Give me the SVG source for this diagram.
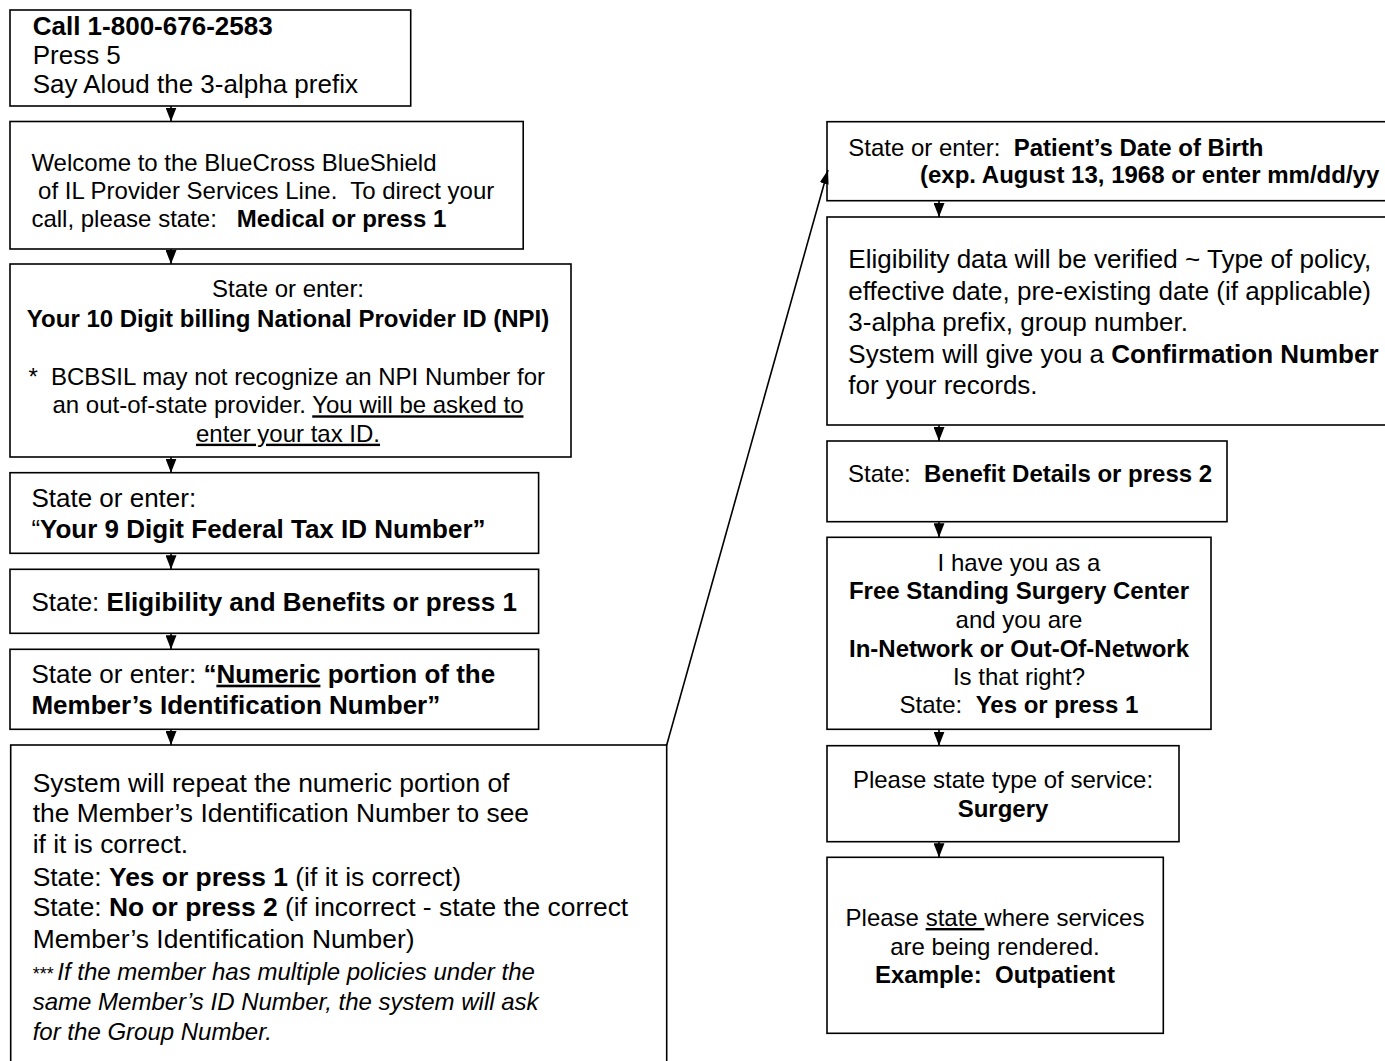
<svg xmlns="http://www.w3.org/2000/svg" width="1385" height="1061" viewBox="0 0 1385 1061">
<style>
rect.box { fill: #fff; stroke: #000; stroke-width: 1.6; }
text { font-family: "Liberation Sans", Arial, sans-serif; fill: #000; white-space: pre; }
.s24 { font-size: 24px; }
.s26 { font-size: 26px; }
.s26b { font-size: 26.4px; }
.b { font-weight: bold; }
.i { font-style: italic; }
.u { text-decoration: underline; }
.mid { text-anchor: middle; }
.conn { fill: none; stroke: #000; stroke-width: 1.6; }
</style>
<defs>
<marker id="tri" viewBox="0 0 14 11" refX="14" refY="5.5" markerWidth="14" markerHeight="11" markerUnits="userSpaceOnUse" orient="auto">
<path d="M0,0 L14,5.5 L0,11 z" fill="#000"/>
</marker>
<marker id="arr" viewBox="0 0 14 9" refX="14" refY="4.5" markerWidth="14" markerHeight="9" markerUnits="userSpaceOnUse" orient="auto">
<path d="M0,0 L14,4.5 L0,9 z" fill="#000"/>
</marker>
</defs>
<rect width="1385" height="1061" fill="#fff"/>

<g id="n1">
<rect class="box" x="10" y="10" width="400.7" height="96"/>
<text class="s26" x="32.7" y="35"><tspan class="b">Call 1-800-676-2583</tspan></text>
<text class="s26" x="32.7" y="64">Press 5</text>
<text class="s26" x="32.7" y="93">Say Aloud the 3-alpha prefix</text>
</g>

<g id="n2">
<rect class="box" x="10" y="121.5" width="513.2" height="127.5"/>
<text class="s24" x="31.4" y="170.7">Welcome to the BlueCross BlueShield</text>
<text class="s24" x="31.4" y="199"> of IL Provider Services Line.  To direct your</text>
<text class="s24" x="31.4" y="227">call, please state:   <tspan class="b">Medical or press 1</tspan></text>
</g>

<g id="n3">
<rect class="box" x="10" y="264" width="561" height="193"/>
<text class="s24 mid" x="288" y="297">State or enter:</text>
<text class="s24 mid b" x="288" y="327">Your 10 Digit billing National Provider ID (NPI)</text>
<text class="s24" x="28.6" y="385">*<tspan x="51">BCBSIL may not recognize an NPI Number for</tspan></text>
<text class="s24 mid" x="288" y="413.3">an out-of-state provider. <tspan class="u">You will be asked to</tspan></text>
<text class="s24 mid" x="288" y="441.7"><tspan class="u">enter your tax ID.</tspan></text>
</g>

<g id="n4">
<rect class="box" x="10" y="472.7" width="528.6" height="80.6"/>
<text class="s26" x="31.4" y="506.7">State or enter:</text>
<text class="s26" x="31.4" y="538.3">“<tspan class="b">Your 9 Digit Federal Tax ID Number”</tspan></text>
</g>

<g id="n5">
<rect class="box" x="10" y="569.3" width="528.6" height="64"/>
<text class="s26" x="31.4" y="610.7">State: <tspan class="b">Eligibility and Benefits or press 1</tspan></text>
</g>

<g id="n6">
<rect class="box" x="10" y="649.3" width="528.6" height="80"/>
<text class="s26" x="31.4" y="682.7">State or enter: <tspan class="b">“<tspan class="u">Numeric</tspan> portion of the</tspan></text>
<text class="s26 b" x="31.4" y="714">Member’s Identification Number”</text>
</g>

<g id="n7">
<rect class="box" x="10.7" y="745" width="656" height="330"/>
<text class="s26b" x="32.7" y="792">System will repeat the numeric portion of</text>
<text class="s26b" x="32.7" y="822">the Member’s Identification Number to see</text>
<text class="s26b" x="32.7" y="853">if it is correct.</text>
<text class="s26b" x="32.7" y="886">State: <tspan class="b">Yes or press 1</tspan> (if it is correct)</text>
<text class="s26b" x="32.7" y="916">State: <tspan class="b">No or press 2</tspan> (if incorrect - state the correct</text>
<text class="s26b" x="32.7" y="948">Member’s Identification Number)</text>
<text x="32.7" y="980"><tspan style="font-size:18px">***</tspan><tspan class="s24 i" x="57.3">If the member has multiple policies under the</tspan></text>
<text class="s24 i" x="32.7" y="1010">same Member’s ID Number, the system will ask</text>
<text class="s24 i" x="32.7" y="1040">for the Group Number.</text>
</g>

<g id="r1">
<rect class="box" x="827" y="121.7" width="600" height="79"/>
<text class="s24" x="848.3" y="156">State or enter:  <tspan class="b">Patient’s Date of Birth</tspan></text>
<text class="s24 b" x="920" y="183.3">(exp. August 13, 1968 or enter mm/dd/yy</text>
</g>

<g id="r2">
<rect class="box" x="827" y="217" width="600" height="208"/>
<text class="s26" x="848.3" y="268">Eligibility data will be verified ~ Type of policy,</text>
<text class="s26" x="848.3" y="299.5">effective date, pre-existing date (if applicable)</text>
<text class="s26" x="848.3" y="331">3-alpha prefix, group number.</text>
<text class="s26" x="848.3" y="362.5">System will give you a <tspan class="b">Confirmation Number</tspan></text>
<text class="s26" x="848.3" y="393.5">for your records.</text>
</g>

<g id="r3">
<rect class="box" x="827" y="441" width="400" height="80.7"/>
<text class="s24" x="848" y="481.7">State:  <tspan class="b">Benefit Details or press 2</tspan></text>
</g>

<g id="r4">
<rect class="box" x="827" y="537.3" width="384" height="192"/>
<text class="s24 mid" x="1019" y="570.7">I have you as a</text>
<text class="s24 mid b" x="1019" y="599">Free Standing Surgery Center</text>
<text class="s24 mid" x="1019" y="628.3">and you are</text>
<text class="s24 mid b" x="1019" y="656.7">In-Network or Out-Of-Network</text>
<text class="s24 mid" x="1019" y="685">Is that right?</text>
<text class="s24 mid" x="1019" y="713.3">State:  <tspan class="b">Yes or press 1</tspan></text>
</g>

<g id="r5">
<rect class="box" x="827" y="745.7" width="352" height="96"/>
<text class="s24 mid" x="1003" y="788.3">Please state type of service:</text>
<text class="s24 mid b" x="1003" y="816.7">Surgery</text>
</g>

<g id="r6">
<rect class="box" x="827" y="857.3" width="336.3" height="176"/>
<text class="s24 mid" x="995" y="926">Please <tspan class="u">state </tspan>where services</text>
<text class="s24 mid" x="995" y="955">are being rendered.</text>
<text class="s24 mid b" x="995" y="983.3">Example:  Outpatient</text>
</g>

<g id="connectors">
<path class="conn" d="M171,106 V121.5" marker-end="url(#tri)"/>
<path class="conn" d="M171,249 V264" marker-end="url(#tri)"/>
<path class="conn" d="M171,457 V472.7" marker-end="url(#tri)"/>
<path class="conn" d="M171,553.3 V569.3" marker-end="url(#tri)"/>
<path class="conn" d="M171,633.3 V649.3" marker-end="url(#tri)"/>
<path class="conn" d="M171,729.3 V745" marker-end="url(#tri)"/>
<path class="conn" d="M666.7,745 L828,170" marker-end="url(#arr)"/>
<path class="conn" d="M939,200.7 V217" marker-end="url(#tri)"/>
<path class="conn" d="M939,425 V441" marker-end="url(#tri)"/>
<path class="conn" d="M939,521.7 V537.3" marker-end="url(#tri)"/>
<path class="conn" d="M939,729.3 V745.7" marker-end="url(#tri)"/>
<path class="conn" d="M939,841.7 V857.3" marker-end="url(#tri)"/>
</g>
</svg>
